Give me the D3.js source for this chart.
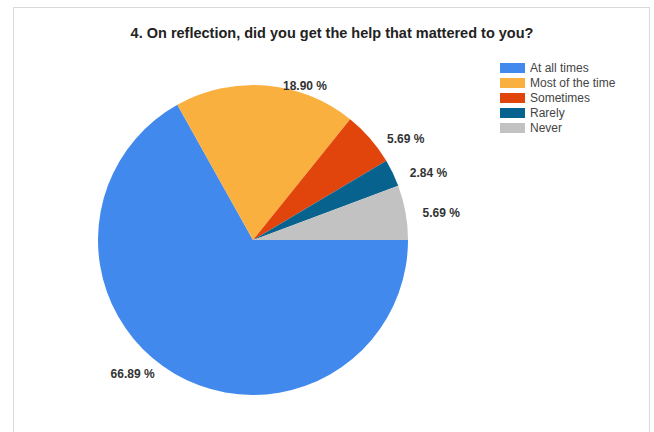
<!DOCTYPE html>
<html>
<head>
<meta charset="utf-8">
<script src="https://cdn.jsdelivr.net/npm/d3@7"></script>
<style>
  html, body { margin: 0; padding: 0; background: #fff; }
  svg { display: block; }
</style>
</head>
<body>
<script>
// Survey responses, question 4
const categories = ["At all times", "Most of the time", "Sometimes", "Rarely", "Never"];
const percentages = [66.89, 18.90, 5.69, 2.84, 5.69];
const sliceColors = ["#4189EC", "#FAB03F", "#E1450C", "#07628E", "#C2C2C2"];
const titleText = "4. On reflection, did you get the help that mattered to you?";

const W = 654, H = 432;
const cx = 253, cy = 240, radius = 155;

const svg = d3.select("body").append("svg")
  .attr("width", W).attr("height", H);

// panel frame
svg.append("rect")
  .attr("x", 13.5).attr("y", 7.5)
  .attr("width", 636).attr("height", 440)
  .attr("fill", "#fff")
  .attr("stroke", "#d9d9d9").attr("stroke-width", 1);

svg.append("text")
  .attr("x", 332).attr("y", 38)
  .attr("text-anchor", "middle")
  .attr("font-family", "Liberation Sans, Arial, sans-serif")
  .attr("font-weight", "bold")
  .attr("font-size", 14.5)
  .attr("fill", "#222")
  .text(titleText);

const data = categories.map((c, i) => ({ name: c, value: percentages[i], color: sliceColors[i] }));

// slices run clockwise starting at 3 o'clock
const pie = d3.pie()
  .value(d => d.value)
  .sort(null)
  .startAngle(Math.PI / 2)
  .endAngle(Math.PI / 2 + 2 * Math.PI);

const arc = d3.arc().innerRadius(0).outerRadius(radius);
const arcs = pie(data);

const g = svg.append("g").attr("transform", `translate(${cx},${cy})`);

g.selectAll("path.slice")
  .data(arcs)
  .join("path")
  .attr("class", "slice")
  .attr("d", arc)
  .attr("fill", d => d.data.color);

// value labels: level with the rim at the slice's mid angle, pushed sideways
const labelGap = 17;
g.selectAll("text.val")
  .data(arcs)
  .join("text")
  .attr("class", "val")
  .each(function (d) {
    const a = (d.startAngle + d.endAngle) / 2;
    const ex = radius * Math.sin(a);
    const ey = -radius * Math.cos(a);
    const right = ex >= 0;
    d3.select(this)
      .attr("x", ex + (right ? labelGap : -labelGap - 3))
      .attr("y", ey)
      .attr("dy", "0.35em")
      .attr("text-anchor", right ? "start" : "end");
  })
  .attr("font-family", "Liberation Sans, Arial, sans-serif")
  .attr("font-weight", "bold")
  .attr("font-size", 12)
  .attr("fill", "#333")
  .text(d => d.data.value.toFixed(2) + " %");

// legend
const legend = svg.append("g").attr("transform", "translate(500,63)");
const rowH = 15;
const rows = legend.selectAll("g.row")
  .data(data)
  .join("g")
  .attr("class", "row")
  .attr("transform", (d, i) => `translate(0,${i * rowH})`);

rows.append("rect")
  .attr("width", 25).attr("height", 10)
  .attr("fill", d => d.color);

rows.append("text")
  .attr("x", 30).attr("y", 5)
  .attr("dy", "0.35em")
  .attr("font-family", "Liberation Sans, Arial, sans-serif")
  .attr("font-size", 12)
  .attr("fill", "#444")
  .text(d => d.name);
</script>
</body>
</html>
